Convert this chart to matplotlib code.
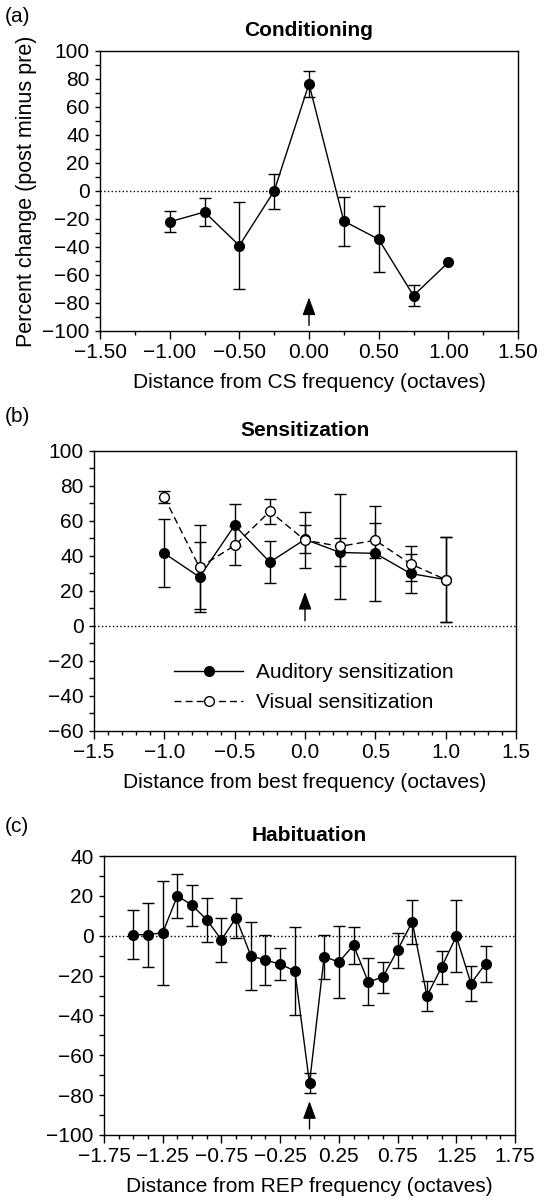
import matplotlib
matplotlib.use('Agg')
import matplotlib.pyplot as plt
from matplotlib.ticker import MultipleLocator, FuncFormatter

plt.rcParams['font.family'] = ['Liberation Sans', 'DejaVu Sans']
plt.rcParams['font.size'] = 15

# (a) Conditioning
cond_x = [-1.0, -0.75, -0.5, -0.25, 0.0, 0.25, 0.5, 0.75, 1.0]
cond_y = [-22, -15, -39, 0, 76.5, -21.5, -34.5, -74.7, -51]
cond_err = [7.6, 9.9, 30.8, 12.5, 9.5, 17.5, 23.5, 7.7, 0]

# (b) Sensitization
sens_x = [-1.0, -0.75, -0.5, -0.25, 0.0, 0.25, 0.5, 0.75, 1.0]
aud_y = [41.5, 28, 57.5, 36.5, 49.5, 42, 41.5, 30, 26.5]
aud_err = [19.5, 20, 12, 12, 8, 8, 27, 11, 24.5]
vis_y = [73.5, 33.5, 46, 65.5, 49, 45.5, 49, 35.5, 26.5]
vis_err = [3.5, 24, 11, 7, 16, 30, 10, 10, 24.5]

# (c) Habituation
hab_x = [-1.5, -1.375, -1.25, -1.125, -1.0, -0.875, -0.75, -0.625, -0.5, -0.375,
         -0.25, -0.125, 0.0, 0.125, 0.25, 0.375, 0.5, 0.625, 0.75, 0.875,
         1.0, 1.125, 1.25, 1.375, 1.5]
hab_y = [0.5, 0.5, 1.5, 20, 15.3, 8, -2, 9, -10, -12.3,
         -14.2, -17.7, -74, -10.5, -13.2, -4.75, -23.2, -20.75, -7.2, 7,
         -30.25, -15.8, -0.3, -24, -14]
hab_err = [12.4, 16, 26, 11, 10.2, 11, 11, 10, 17, 12.6,
           8.2, 22, 5, 11, 18.3, 9.3, 11.8, 7.75, 8.8, 11,
           7.75, 8.2, 18, 9, 9]

W, H = 544, 1200
fig = plt.figure(figsize=(W / 100, H / 100), dpi=100)


def px_axes(left, top, right, bottom):
    return fig.add_axes([left / W, 1 - bottom / H, (right - left) / W, (bottom - top) / H])


def minus_fmt(fmt):
    return FuncFormatter(lambda v, pos: fmt.format(v).replace('-', '\u2212'))


def style_axes(ax):
    ax.tick_params(which='both', direction='out', top=False, right=False, width=1)
    ax.tick_params(axis='x', which='major', length=5.4, pad=3)
    ax.tick_params(axis='x', which='minor', length=3.1)
    ax.tick_params(axis='y', which='both', length=3.4, pad=4)
    for s in ax.spines.values():
        s.set_linewidth(1)
    ax.axhline(0, color='black', ls=':', lw=1, zorder=1)


def draw_arrow(ax, base, tip):
    ax.annotate('', xy=(0, tip), xytext=(0, base),
                arrowprops=dict(arrowstyle='-|>,head_length=0.6,head_width=0.22',
                                color='black', lw=1, shrinkA=0, shrinkB=0,
                                mutation_scale=18))


def draw_series(ax, x, y, err, ls='-', mfc='black', label=None, z=3):
    # points without a measured error get no bar at all
    keep = [i for i, e in enumerate(err) if e > 0]
    ax.errorbar([x[i] for i in keep], [y[i] for i in keep], yerr=[err[i] for i in keep],
                fmt='none', ecolor='black', elinewidth=1, capsize=4, capthick=1, zorder=z)
    ax.plot(x, y, ls=ls, marker='o', color='black', mfc=mfc, mec='black',
            ms=7, lw=1, label=label, zorder=z + 0.5)


def finish(ax, title, xlabel):
    ax.set_title(title, fontweight='bold', fontsize=15, pad=11)
    ax.set_xlabel(xlabel, labelpad=8)
    ax.yaxis.set_major_locator(MultipleLocator(20))
    ax.yaxis.set_minor_locator(MultipleLocator(10))
    ax.yaxis.set_major_formatter(minus_fmt('{:.0f}'))


# ---- panel a
ax = px_axes(100, 51, 518, 331)
style_axes(ax)
draw_series(ax, cond_x, cond_y, cond_err)
draw_arrow(ax, -96, -76)
ax.set_xlim(-1.5, 1.5)
ax.set_ylim(-100, 100)
ax.xaxis.set_major_locator(MultipleLocator(0.5))
ax.xaxis.set_minor_locator(MultipleLocator(0.25))
ax.xaxis.set_major_formatter(minus_fmt('{:.2f}'))
finish(ax, 'Conditioning', 'Distance from CS frequency (octaves)')
ax.set_ylabel('Percent change (post minus pre)', fontsize=15.5)
fig.text(5 / W, 1 - 16 / H, '(a)', va='center')

# ---- panel b
ax = px_axes(94, 451, 516, 731)
style_axes(ax)
draw_series(ax, sens_x, aud_y, aud_err, label='Auditory sensitization', z=3)
draw_series(ax, sens_x, vis_y, vis_err, ls=(0, (5, 3)), mfc='white',
            label='Visual sensitization', z=4)
draw_arrow(ax, 3, 19.5)
ax.set_xlim(-1.5, 1.5)
ax.set_ylim(-60, 100)
ax.xaxis.set_major_locator(MultipleLocator(0.5))
ax.xaxis.set_minor_locator(MultipleLocator(0.1))
ax.xaxis.set_major_formatter(minus_fmt('{:.1f}'))
finish(ax, 'Sensitization', 'Distance from best frequency (octaves)')
ax.legend(loc='center left', bbox_to_anchor=(0.19, 0.155), frameon=False,
          borderpad=0, borderaxespad=0, handlelength=3.3, labelspacing=0.55,
          handletextpad=0.65)
fig.text(5 / W, 1 - 416 / H, '(b)', va='center')

# ---- panel c
ax = px_axes(104, 856, 515, 1135)
style_axes(ax)
draw_series(ax, hab_x, hab_y, hab_err)
draw_arrow(ax, -97, -83)
ax.set_xlim(-1.75, 1.75)
ax.set_ylim(-100, 40)
ax.set_xticks([-1.75, -1.25, -0.75, -0.25, 0.25, 0.75, 1.25, 1.75])
ax.xaxis.set_minor_locator(MultipleLocator(0.125))
ax.xaxis.set_major_formatter(minus_fmt('{:.2f}'))
finish(ax, 'Habituation', 'Distance from REP frequency (octaves)')
fig.text(5 / W, 1 - 826 / H, '(c)', va='center')

fig.savefig('out.png', dpi=100)
